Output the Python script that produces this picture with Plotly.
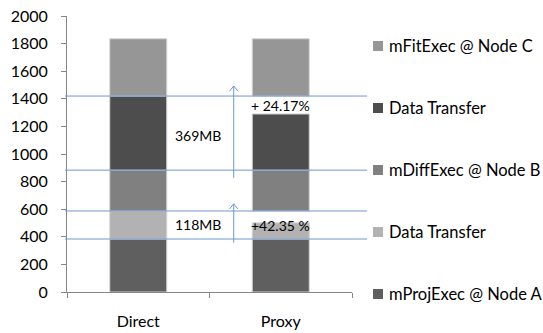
import plotly.graph_objects as go

# Workflow stages, bottom to top
categories = ["Direct", "Proxy"]
stage_names = ["mProjExec @ Node A", "Data Transfer", "mDiffExec @ Node B",
               "Data Transfer", "mFitExec @ Node C"]
stage_colors = ["#5f5f5f", "#b2b2b2", "#808080", "#4d4d4d", "#969696"]

# Duration of each stage per category (Direct, Proxy)
proj_exec = [384, 384]
transfer_a = [203, 117]
diff_exec = [296, 296]
transfer_b = [537, 407]
fit_exec = [415, 415]
durations = [proj_exec, transfer_a, diff_exec, transfer_b, fit_exec]

# Stage start times follow the Direct schedule (stages wait on each other)
stage_starts = []
acc = 0
for d in durations:
    stage_starts.append(acc)
    acc += d[0]
stage_boundaries = stage_starts[1:]  # 384, 587, 883, 1420

# Annotations
size_labels = ["118MB", "369MB"]
size_label_y = [486, 1137]
gain_labels = ["+42.35 %", "+ 24.17%"]
gain_label_y = [480, 1350]
arrow_ranges = [(357, 639), (827, 1493)]

y_ticks = list(range(0, 2001, 200))

FONT = "Lato, 'Open Sans', sans-serif"
BLUE = "#6f97cf"

fig = go.Figure()
for name, color, start, dur in zip(stage_names, stage_colors, stage_starts, durations):
    fig.add_trace(go.Bar(
        x=categories, y=dur, base=[start, start], name=name,
        width=0.4, marker=dict(color=color, line=dict(color="#d4d4d4", width=1)),
        showlegend=False,
    ))

shapes = []
# Horizontal guide lines at Direct stage boundaries
for b in stage_boundaries:
    shapes.append(dict(type="line", xref="paper", yref="y", x0=-0.007, x1=1.053,
                       y0=b, y1=b, line=dict(color=BLUE, width=1), layer="above"))

# Vertical arrows with open heads
arrow_x = 0.67
for lo, hi in arrow_ranges:
    shapes.append(dict(type="line", xref="x", yref="y", x0=arrow_x, x1=arrow_x,
                       y0=lo, y1=hi, line=dict(color=BLUE, width=1)))
    shapes.append(dict(type="path", xref="x", yref="y",
                       path=f"M {arrow_x - 0.03},{hi - 38} L {arrow_x},{hi} L {arrow_x + 0.03},{hi - 38}",
                       line=dict(color=BLUE, width=1)))

annotations = []
for txt, y in zip(size_labels, size_label_y):
    annotations.append(dict(x=0.418, y=y, xref="x", yref="y", text=txt, showarrow=False,
                            font=dict(family=FONT, size=14, color="#000")))
for txt, y in zip(gain_labels, gain_label_y):
    annotations.append(dict(x=1.0, y=y, xref="x", yref="y", text=txt, showarrow=False,
                            font=dict(family=FONT, size=14, color="#000")))

# Legend on the right, top entry is the last stage
leg_top_px, leg_step_px = 46, 62
plot_h, plot_w, top_px, left_px = 276, 285, 16, 67
for i, (name, color) in enumerate(zip(reversed(stage_names), reversed(stage_colors))):
    ypx = leg_top_px + i * leg_step_px
    yp = (top_px + plot_h - ypx) / plot_h
    x0 = (373 - left_px) / plot_w
    x1 = (383 - left_px) / plot_w
    shapes.append(dict(type="rect", xref="paper", yref="paper", x0=x0, x1=x1,
                       y0=yp - 5 / plot_h, y1=yp + 5 / plot_h,
                       fillcolor=color, line=dict(width=0)))
    annotations.append(dict(x=(387 - left_px) / plot_w, y=yp, xref="paper", yref="paper",
                            text=name, showarrow=False, xanchor="left", yanchor="middle",
                            font=dict(family=FONT, size=16.5, color="#000")))

fig.update_layout(
    barmode="overlay",
    width=543, height=333,
    margin=dict(l=67, r=191, t=16, b=41),
    paper_bgcolor="white", plot_bgcolor="white",
    shapes=shapes, annotations=annotations,
    font=dict(family=FONT, size=14, color="#000"),
    xaxis=dict(showline=True, linecolor="#868686", linewidth=1, ticks="outside",
               tickson="boundaries", ticklen=5, tickcolor="#868686",
               ticklabelstandoff=15, showgrid=False, zeroline=False, automargin=False,
               tickfont=dict(family=FONT, size=16)),
    yaxis=dict(range=[0, 2000], tickvals=y_ticks, showline=True, linecolor="#868686",
               linewidth=1, ticks="outside", ticklen=5, tickcolor="#868686",
               showgrid=False, zeroline=False, ticklabelstandoff=10, automargin=False,
               tickfont=dict(family=FONT, size=16)),
)

fig.write_html("out.html")
